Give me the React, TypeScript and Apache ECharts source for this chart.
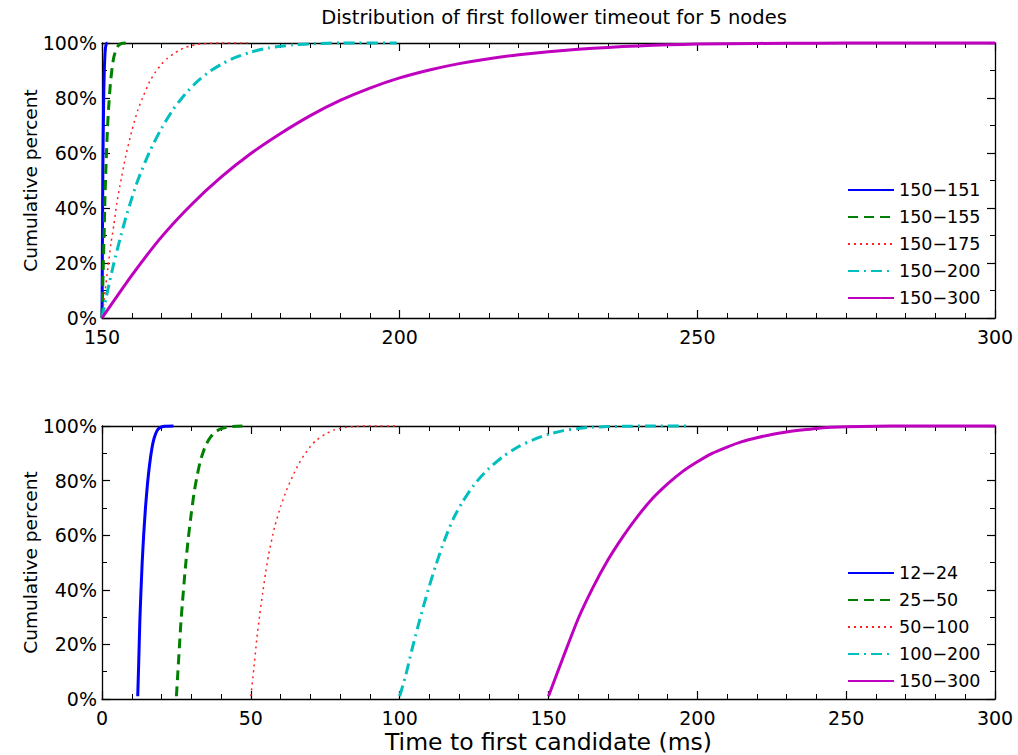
import React, { useEffect, useRef } from "react";
import * as echarts from "echarts";

type Pt = [number, number];

const titleText = "Distribution of first follower timeout for 5 nodes";
const yName = "Cumulative percent";
const xName = "Time to first candidate (ms)";

const topNames = ["150−151", "150−155", "150−175", "150−200", "150−300"];
const bottomNames = ["12−24", "25−50", "50−100", "100−200", "150−300"];

// Top panel: cumulative percent vs time (ms)
const top151: Pt[] = [[150, 0], [150.03, 12], [150.06, 25], [150.1, 40], [150.15, 55], [150.2, 66], [150.3, 82], [150.4, 91], [150.5, 96], [150.6, 98.5], [150.75, 99.7], [150.9, 100], [151, 100]];
const top155: Pt[] = [[150, 0], [150.1, 9], [150.2, 18], [150.35, 30], [150.5, 44], [150.7, 57], [150.9, 68], [151.1, 76], [151.4, 85], [151.7, 91], [152, 95], [152.4, 97.8], [152.8, 99.2], [153.3, 99.8], [154, 100]];
const top175: Pt[] = [[150, 0], [150.5, 9.5], [151, 18.5], [151.5, 27], [152, 34], [152.5, 42], [153, 48], [154, 59], [155, 68], [156, 75.5], [157, 81], [158, 86], [159, 89.5], [160, 92.3], [161, 94.5], [162, 96], [163, 97.4], [164, 98.4], [165, 99], [166, 99.5], [168, 99.9], [170, 100], [174.5, 100]];
const top200: Pt[] = [[150, 0], [151, 10.5], [152, 20], [153, 28.5], [154, 36.5], [155, 43.5], [156, 50], [158, 60.5], [160, 69], [162, 76], [164, 81.5], [166, 86], [168, 89.5], [170, 92.2], [172, 94.4], [175, 96.7], [178, 98.2], [182, 99.3], [186, 99.8], [190, 100], [199.5, 100]];
const top300: Pt[] = [[150, 0], [155, 15.5], [160, 29.5], [165, 41.2], [170, 51.2], [175, 59.8], [180, 67.1], [185, 73.6], [190, 79.1], [195, 83.6], [200, 87.3], [205, 90.2], [210, 92.5], [215, 94.3], [220, 95.7], [225, 96.8], [230, 97.7], [235, 98.4], [240, 98.95], [245, 99.35], [250, 99.6], [260, 99.85], [270, 99.95], [280, 100], [300, 100]];

// Bottom panel
const bot24: Pt[] = [[12, 1], [12.3, 12], [12.7, 28], [13, 37], [13.5, 50], [14, 60], [14.6, 70], [15.3, 79], [16, 86], [16.8, 92], [17.5, 95.5], [18.5, 98.3], [19.5, 99.4], [21, 99.9], [24, 100]];
const bot50: Pt[] = [[25, 1], [25.5, 10], [26, 19], [26.5, 28], [27, 35], [28, 48], [29, 59], [30, 68], [31, 76], [32, 82], [33, 87], [34, 90.5], [35, 93.3], [36.5, 96], [38, 97.8], [40, 99], [42, 99.6], [45, 99.9], [48, 100]];
const bot100: Pt[] = [[50, 1], [51, 11], [52, 22], [53, 31], [54, 39], [55, 46.5], [56, 53], [58, 63], [60, 70.5], [62, 76.5], [64, 81.5], [66, 86], [68, 89.5], [70, 92.5], [72, 94.8], [75, 97], [78, 98.6], [82, 99.5], [86, 99.9], [90, 100], [99, 100]];
const bot200: Pt[] = [[100, 1], [102, 8.5], [104, 17.5], [106, 26], [108, 34], [110, 41.5], [112, 48.5], [115, 58], [118, 66], [121, 72], [125, 78.5], [130, 84.5], [135, 89], [140, 92.5], [145, 95], [150, 97], [155, 98.3], [160, 99.1], [165, 99.6], [175, 99.9], [185, 100], [197, 100]];
const bot300: Pt[] = [[150, 1], [155, 15.5], [160, 29.5], [165, 41], [170, 51], [175, 59.5], [180, 67], [185, 73.5], [190, 78.8], [195, 83.3], [200, 86.9], [205, 90], [210, 92.3], [215, 94.3], [220, 95.7], [225, 96.9], [230, 97.8], [235, 98.5], [240, 99.1], [245, 99.5], [250, 99.75], [260, 99.9], [270, 100], [300, 100]];

const topData = [top151, top155, top175, top200, top300];
const bottomData = [bot24, bot50, bot100, bot200, bot300];

const colors = ["#0000ff", "#008000", "#ff2020", "#00bfbf", "#bf00bf"];
const dashes: any[] = ["solid", [10, 6], [2, 4], [11, 5, 2, 5], "solid"];
const widths = [3, 3, 1.5, 3, 3];

const FONT = "DejaVu Sans";

export default function App() {
  const ref = useRef<HTMLDivElement>(null);
  useEffect(() => {
    if (!ref.current) return;
    const chart = echarts.init(ref.current, null, { renderer: "svg" });

    const tickLabel = { color: "#000", fontSize: 19, fontFamily: FONT };
    const line = { lineStyle: { color: "#000", width: 1.3 } };
    const mkX = (grid: number, min: number, minorSplit: number, pos: "bottom" | "top", labels: boolean, name?: string) => ({
      type: "value",
      gridIndex: grid,
      position: pos,
      min,
      max: 300,
      interval: 50,
      axisLine: { show: true, onZero: false, ...line },
      axisTick: { show: true, inside: true, length: 8, lineStyle: { color: "#000", width: 1.2 } },
      minorTick: { show: true, splitNumber: minorSplit, length: 5, lineStyle: { color: "#000", width: 1 } },
      splitLine: { show: false },
      axisLabel: { show: labels, margin: 9, ...tickLabel },
      name: name,
      nameLocation: "middle",
      nameGap: 31,
      nameTextStyle: { color: "#000", fontSize: 23.5, fontFamily: FONT },
    });
    const mkY = (grid: number, pos: "left" | "right", labels: boolean, name?: string) => ({
      type: "value",
      gridIndex: grid,
      position: pos,
      min: 0,
      max: 100,
      interval: 20,
      axisLine: { show: true, onZero: false, ...line },
      axisTick: { show: true, inside: true, length: 8, lineStyle: { color: "#000", width: 1.2 } },
      minorTick: { show: true, splitNumber: 2, length: 5, lineStyle: { color: "#000", width: 1 } },
      splitLine: { show: false },
      axisLabel: { show: labels, margin: 5, formatter: "{value}%", ...tickLabel },
      name: name,
      nameLocation: "middle",
      nameGap: 62,
      nameMoveOverlap: false,
      nameRotate: 90,
      nameTextStyle: { color: "#000", fontSize: 18.5, fontFamily: FONT },
    });

    const mkSeries = (names: string[], data: Pt[][], xi: number, yi: number) =>
      data.map((d, i) => ({
        type: "line",
        name: names[i],
        xAxisIndex: xi,
        yAxisIndex: yi,
        data: d,
        showSymbol: false,
        symbol: "none",
        smooth: 0.2,
        clip: false,
        lineStyle: { color: colors[i], width: widths[i], type: dashes[i] },
        itemStyle: { color: colors[i] },
        z: 3,
      }));

    const legendCommon = {
      orient: "vertical",
      left: 842,
      itemWidth: 46,
      itemHeight: 14,
      itemGap: 7,
      itemStyle: { color: "rgba(0,0,0,0)", borderColor: "rgba(0,0,0,0)", borderWidth: 0, opacity: 0 },
      textStyle: { color: "#000", fontSize: 17.5, fontFamily: FONT, lineHeight: 20 },
      selectedMode: false,
    };

    chart.setOption({
      animation: false,
      backgroundColor: "#fff",
      grid: [
        { left: 102, top: 43, width: 893, height: 275 },
        { left: 102, top: 426, width: 893, height: 274 },
      ],
      xAxis: [
        mkX(0, 150, 10, "bottom", true),
        mkX(0, 150, 10, "top", false),
        mkX(1, 0, 5, "bottom", true, xName),
        mkX(1, 0, 5, "top", false),
      ],
      yAxis: [
        mkY(0, "left", true, yName),
        mkY(0, "right", false),
        mkY(1, "left", true, yName),
        mkY(1, "right", false),
      ],
      legend: [
        { ...legendCommon, top: 175, data: topNames },
        { ...legendCommon, top: 558, data: bottomNames },
      ],
      graphic: [
        {
          type: "text",
          x: 554,
          y: 17,
          style: {
            text: titleText,
            fill: "#000",
            font: `19.5px "${FONT}"`,
            textAlign: "center",
            textVerticalAlign: "middle",
          },
        },
      ],
      series: [...mkSeries(topNames, topData, 0, 0), ...mkSeries(bottomNames, bottomData, 2, 2)],
    });
    return () => chart.dispose();
  }, []);
  return <div ref={ref} style={{ position: "fixed", left: 0, top: 0, width: 1018, height: 755 }} />;
}
